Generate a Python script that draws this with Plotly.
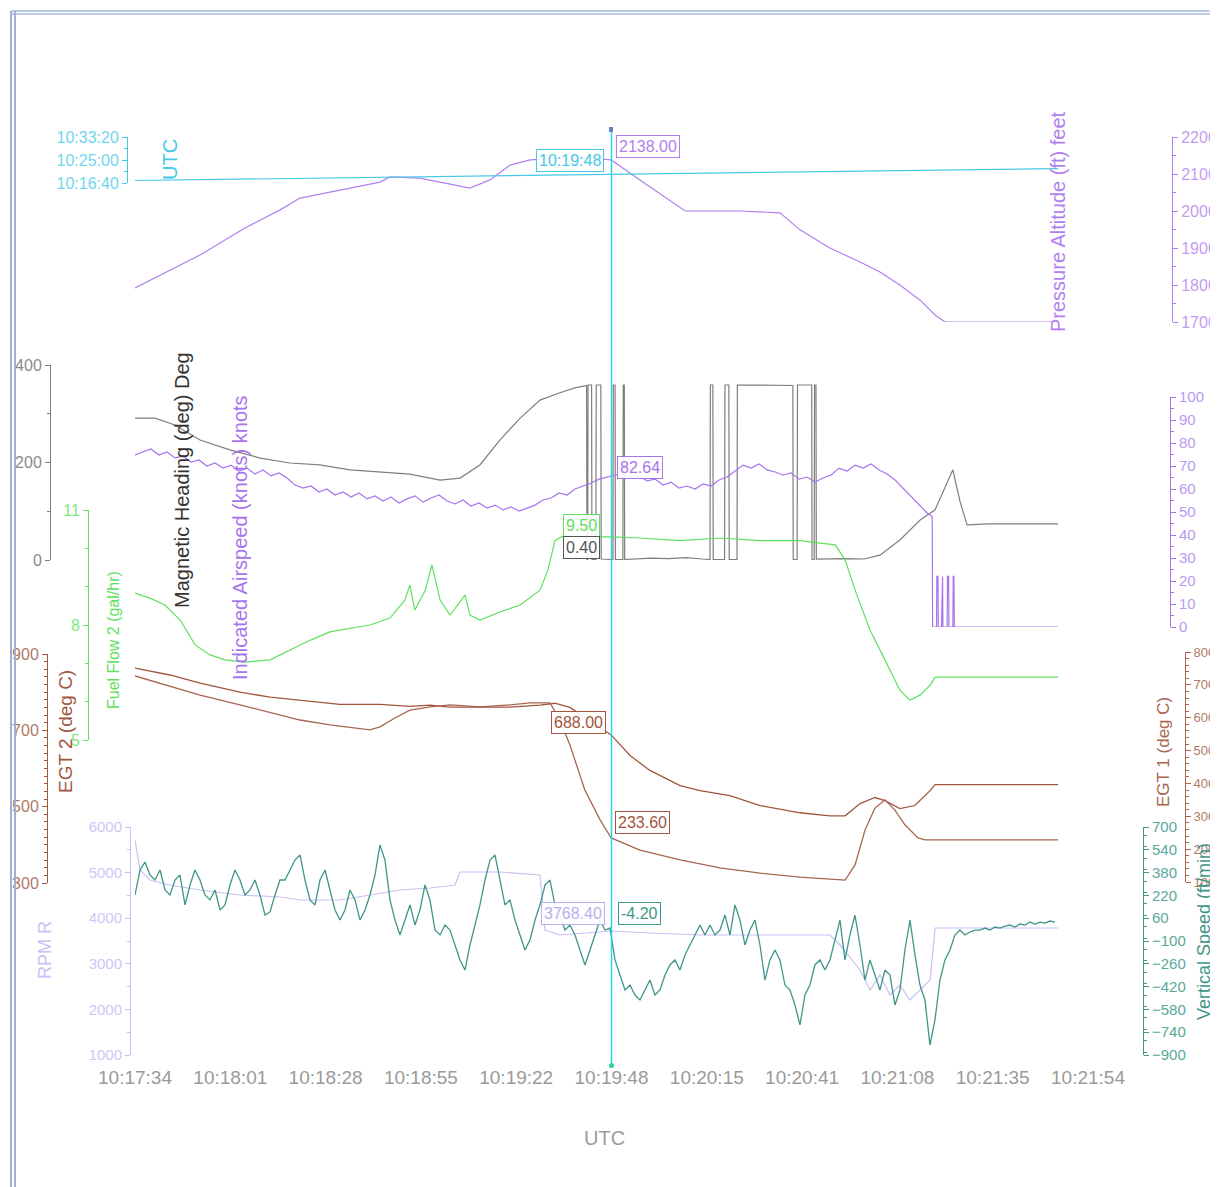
import plotly.graph_objects as go

# ---------------- data ----------------
x_tick_labels = ["10:17:34", "10:18:01", "10:18:28", "10:18:55", "10:19:22", "10:19:48",
                 "10:20:15", "10:20:41", "10:21:08", "10:21:35", "10:21:54"]
x_tick_seconds = [0, 26.8, 53.6, 80.4, 107.2, 134.0, 160.8, 187.6, 214.4, 241.2, 268.0]
cursor_t = 134.0

# UTC trace (clock time, seconds after 10:16:40 on its own axis)
utc_t = [0, 259.6]
utc_clock = ["10:17:34", "10:21:54"]
utc_tick_labels = ["10:16:40", "10:25:00", "10:33:20"]

# Pressure Altitude (ft)
alt_t = [0, 9.8, 18.3, 30.9, 40.8, 46.4, 57.6, 68.9, 71.7, 80.1, 85.8, 94.2, 99.8, 105.5, 111.1,
         119.5, 128.0, 133.9, 142.0, 150.4, 154.7, 170.1, 181.4, 187.0, 195.4, 203.9, 209.5,
         215.1, 220.8, 225.0, 227.8, 259.6]
alt_v = [1792, 1840, 1881, 1954, 2003, 2035, 2057, 2078, 2092, 2089, 2078, 2062, 2084, 2124, 2138,
         2143, 2143, 2138, 2084, 2030, 2000, 2000, 1995, 1949, 1900, 1862, 1835,
         1800, 1759, 1719, 1700, 1700]

# Magnetic Heading (deg)
hdg_t = [0, 5.6, 11.2, 18.3, 26.7, 35.2, 43.6, 52.0, 60.5, 68.9, 77.3, 85.8, 91.4, 97.0, 102.6,
         108.3, 113.9, 119.5, 123.7, 126.5, 127.0, 127.1, 127.3, 127.4, 128.4, 128.5, 129.6, 129.7,
         131.0, 131.1, 134.4, 134.5, 135.0, 135.1, 137.2, 137.3, 137.6, 137.7, 140, 145, 150, 155,
         159.5, 161.7, 161.8, 162.5, 162.6, 165.8, 165.9, 167.0, 167.1, 169.3, 169.4, 185.0, 185.1,
         186.2, 186.3, 190.3, 190.4, 191.0, 191.1, 191.5, 191.6, 195, 200, 205, 209.5, 215.1,
         220.8, 225.0, 227.8, 230.0, 232.0, 234.0, 240, 259.6]
hdg_v = [291, 291, 277, 246, 226, 209, 199, 195, 185, 181, 176, 164, 168, 195, 246,
         291, 328, 343, 353, 357, 358, 1, 1, 359, 359, 1, 1, 359,
         359, 2, 1, 359, 359, 1, 1, 359, 359, 1, 2, 4, 3, 5,
         2, 1, 359, 359, 1, 1, 359, 359, 1, 1, 359, 358, 1,
         1, 359, 359, 1, 1, 359, 359, 2, 3, 3, 2, 10, 41,
         82, 103, 150, 185, 120, 72, 74, 74]

# Indicated Airspeed (knots): one sample every 2.25 s, then the shutdown tail
ias_step = 2.25
ias_v = [74.8, 76.1, 77.4, 74.8, 76.1, 73.5, 74.3, 71.7, 72.6, 70.0, 71.3, 69.1, 70.4, 67.8, 69.1,
         66.5, 68.3, 65.7, 67.0, 64.8, 61.7, 60.4, 61.3, 58.7, 60.0, 57.4, 58.7, 56.5, 58.3, 55.7,
         57.0, 54.8, 56.5, 53.9, 55.7, 57.0, 54.3, 56.1, 57.4, 54.8, 53.5, 55.2, 52.6, 53.9, 51.7,
         53.0, 50.9, 52.2, 50.4, 51.7, 53.0, 55.2, 56.1, 58.3, 57.4, 60.0, 61.3, 62.6, 64.3, 65.2,
         66.1, 66.5, 64.8, 65.7, 63.5, 64.3, 61.7, 63.0, 60.4, 61.3, 60.0, 62.2, 61.3, 63.9, 65.2,
         67.8, 70.4, 69.1, 70.9, 68.3, 67.4, 66.1, 67.0, 64.3, 65.2, 63.0, 64.8, 66.1, 69.1, 67.8,
         70.4, 69.1, 70.9, 68.3, 66.5, 63.9, 60.4, 56.5, 53.0, 49.6]
ias_tail_t = [224.2, 224.3, 225.4, 225.5, 225.8, 225.9, 226.8, 226.9, 227.1, 227.2, 228.4, 228.5,
              228.8, 228.9, 230.0, 230.1, 230.3, 230.4, 259.6]
ias_tail_v = [48, 0, 0, 22, 22, 0, 0, 22, 22, 0, 0, 22, 22, 0, 0, 22, 22, 0, 0]

# Fuel Flow 2 (gal/hr)
ff_t = [0, 4.2, 8.4, 12.7, 16.9, 21.1, 25.3, 30.9, 38.0, 43.6, 49.2, 54.8, 60.5, 66.1, 71.7,
        75.9, 77.3, 78.7, 81.6, 83.5, 85.8, 88.6, 92.8, 94.2, 97.0, 102.6, 108.3, 113.9, 116.1,
        118.1, 120.9, 125.1, 133.9, 142.0, 153.3, 164.5, 175.8, 187.0, 196.9, 199.7, 202.5, 206.7,
        210.9, 215.1, 217.9, 220.8, 223.6, 225.0, 259.6]
ff_v = [8.83, 8.7, 8.52, 8.13, 7.48, 7.22, 7.09, 7.03, 7.09, 7.35, 7.6, 7.82, 7.92, 8.0, 8.18,
        8.65, 9.04, 8.39, 8.9, 9.57, 8.65, 8.26, 8.78, 8.26, 8.13, 8.34, 8.52, 8.91, 9.43,
        10.2, 10.35, 10.3, 10.3, 10.27, 10.2, 10.27, 10.2, 10.2, 10.09, 9.7, 8.91, 7.87,
        7.09, 6.3, 6.04, 6.17, 6.43, 6.64, 6.64]

# EGT 2 (deg C)
egt2_t = [0, 9.8, 18.3, 29.5, 38.0, 46.4, 57.6, 68.9, 77.3, 83.0, 88.6, 97.0, 105.5, 113.9, 118.1,
          122.3, 127.0, 133.9, 139.2, 144.8, 153.3, 158.9, 167.3, 175.8, 187.0, 195.4, 199.7,
          203.9, 208.1, 210.9, 215.1, 219.3, 223.6, 225.0, 259.6]
egt2_v = [863, 845, 824, 800, 787, 779, 768, 768, 763, 766, 761, 761, 761, 766, 771,
          760, 730, 688, 634, 595, 555, 542, 529, 503, 484, 476, 476,
          508, 524, 516, 495, 503, 542, 558, 558]

# EGT 1 (deg C)
egt1_t = [0, 9.8, 18.3, 29.5, 38.0, 46.4, 54.8, 66.1, 68.9, 73.1, 77.3, 83.0, 88.6, 97.0, 105.5,
          111.1, 116.7, 119.5, 122.3, 126.5, 130.8, 133.9, 142.0, 153.3, 164.5, 175.8, 187.0,
          199.7, 202.5, 205.3, 208.1, 210.9, 213.7, 216.5, 220.2, 222.2, 259.6]
egt1_v = [727, 697, 669, 639, 617, 593, 578, 563, 572, 599, 623, 633, 639, 633, 639,
          645, 645, 593, 517, 380, 289, 234, 197, 167, 143, 127, 115,
          106, 152, 258, 325, 350, 319, 274, 234, 228, 228]

# RPM R
rpm_t = [0, 1.4, 4.2, 9.8, 18.3, 29.5, 40.8, 46.4, 57.6, 68.9, 74.5, 83.0, 90.0, 91.4, 102.6,
         113.9, 115.3, 119.5, 130.8, 133.9, 144.8, 158.9, 172.9, 187.0, 195.4, 198.3, 203.9,
         206.7, 209.5, 212.3, 215.1, 217.9, 220.8, 223.6, 225.0, 259.6]
rpm_v = [5715, 5057, 4838, 4728, 4618, 4509, 4465, 4399, 4399, 4553, 4618, 4662, 4728, 5013, 5013,
         4947, 3741, 3632, 3697, 3719, 3675, 3632, 3632, 3632, 3632, 3412, 2864,
         2425, 2754, 2316, 2535, 2206, 2425, 2645, 3785, 3785]

# Vertical Speed (ft/min), one sample every 1.406 s
vs_step = 1.406
vs_v = [223, 398, 454, 363, 328, 398, 258, 223, 328, 363, 153, 293, 398, 328, 223, 188, 258, 118,
        153, 293, 398, 328, 223, 258, 328, 223, 82, 104, 223, 328, 328, 398, 468, 504, 328, 188,
        153, 328, 398, 258, 118, 47, 118, 258, 188, 47, 118, 223, 363, 574, 468, 188, 47, -58,
        47, 153, 12, 118, 293, 188, -23, -58, 12, -23, -128, -233, -304, -128, 12, 153, 328, 468,
        504, 328, 153, 188, 47, -58, -163, -93, 47, 153, 293, 328, 153, 82, -23, 12, -58, -163,
        -268, -163, -58, 47, -23, -9, -233, -339, -444, -409, -479, -514, -444, -374, -479, -444,
        -339, -268, -233, -304, -198, -128, -58, 12, -58, 12, -58, -23, 82, -58, 153, 47, -128,
        -23, 47, -128, -374, -233, -163, -233, -409, -444, -549, -689, -479, -409, -268, -233,
        -304, -233, -93, 47, -233, -58, 82, -128, -374, -233, -339, -444, -304, -339, -549, -444,
        -163, 47, -198, -409, -514, -830, -654, -374, -233, -163, -58, -23,
        -58, -37, -23, -23, -9, -23, -2, -9, 5, 12, -2, 19, 12, 33, 19, 33, 26, 40, 33]

# cursor read-outs
cursor_labels = ["10:19:48", "2138.00", "82.64", "9.50", "0.40", "688.00", "233.60", "3768.40", "-4.20"]

# ---------------- layout helpers ----------------
W, H = 1218, 1187
OX, OY = 8, 8   # page body margin


def px(x):
    return (x - OX) / W


def py(y):
    return 1 - (y - OY) / H


def hms(s):
    h, m, sec = s.split(":")
    return int(h) * 3600 + int(m) * 60 + float(sec)


C_UTC = "#46c8e6"
C_ALT = "#b27ff0"
C_HDG = "#7f7f7f"
C_IAS = "#a774ee"
C_FF = "#5fe05f"
C_EGT2 = "#a0563e"
C_EGT1 = "#a86650"
C_RPM = "#c9c0f5"
C_VS = "#3f9688"
FONT = "Liberation Sans, Arial, sans-serif"

fig = go.Figure()

utc_base = hms("10:16:40")
utc_vals = [hms(c) - utc_base for c in utc_clock]
vs_t = [round(i * vs_step, 2) for i in range(len(vs_v))]
ias_t_all = [round(i * ias_step, 2) for i in range(len(ias_v))] + ias_tail_t
ias_v_all = ias_v + ias_tail_v

series = [
    ("Pressure Altitude", alt_t, alt_v, "y", C_ALT, 1.2),
    ("UTC", utc_t, utc_vals, "y2", C_UTC, 1.2),
    ("Magnetic Heading", hdg_t, hdg_v, "y3", C_HDG, 1.2),
    ("Indicated Airspeed", ias_t_all, ias_v_all, "y4", C_IAS, 1.2),
    ("Fuel Flow 2", ff_t, ff_v, "y5", C_FF, 1.2),
    ("EGT 2", egt2_t, egt2_v, "y6", C_EGT2, 1.3),
    ("EGT 1", egt1_t, egt1_v, "y7", C_EGT1, 1.3),
    ("RPM R", rpm_t, rpm_v, "y8", C_RPM, 1.2),
    ("Vertical Speed", vs_t, vs_v, "y9", C_VS, 1.3),
]
for name, xs, ys, ya, col, w in series:
    fig.add_trace(go.Scatter(x=xs, y=ys, yaxis=ya, xaxis="x", mode="lines", name=name,
                             line=dict(color=col, width=w), hoverinfo="skip"))


def yax(dom_px, rng, pos_px, side, col, dtick=None, minor=None, tickvals=None, ticktext=None,
        tick0=None, lcol=None, tcol=None, fsize=16):
    d = dict(domain=[py(dom_px[0]), py(dom_px[1])], range=rng, anchor="free", position=px(pos_px),
             side=side, showgrid=False, zeroline=False, showline=True, linecolor=lcol or col,
             linewidth=1, ticks="outside", ticklen=5, tickcolor=lcol or col, automargin=False,
             tickfont=dict(color=tcol or col, size=fsize, family=FONT), fixedrange=True)
    if dtick is not None:
        d["dtick"] = dtick
    if tick0 is not None:
        d["tick0"] = tick0
    if tickvals is not None:
        d["tickmode"] = "array"
        d["tickvals"] = tickvals
        d["ticktext"] = ticktext
    if minor is not None:
        d["minor"] = dict(ticks="outside", ticklen=3, dtick=minor, tickcolor=lcol or col, showgrid=False)
    return d


layout = dict(
    width=W, height=H, margin=dict(l=0, r=0, t=0, b=0, pad=0), autosize=False,
    paper_bgcolor="white", plot_bgcolor="rgba(0,0,0,0)", showlegend=False,
    font=dict(family=FONT),
    xaxis=dict(domain=[px(135), px(1088)], range=[0, 268], anchor="free", position=py(1064),
               tickmode="array", tickvals=x_tick_seconds, ticktext=x_tick_labels, automargin=False,
               showgrid=False, zeroline=False, showline=False, ticks="",
               tickfont=dict(color="#9a9a9a", size=19, family=FONT), fixedrange=True),
    yaxis=yax((322, 137), [1700, 2200], 1172, "right", C_ALT, dtick=100, minor=50, tcol="#c39cf2"),
    yaxis2=yax((183, 137), [0, 1000], 127, "left", C_UTC, tickvals=[0, 500, 1000],
               ticktext=utc_tick_labels, minor=250, tcol="#6fd6ee"),
    yaxis3=yax((560, 365), [0, 400], 50, "left", C_HDG, dtick=200, minor=100, tcol="#8a8a8a"),
    yaxis4=yax((627, 397), [0, 100], 1170, "right", C_IAS, dtick=10, minor=5, tcol="#b99af0",
               fsize=15),
    yaxis5=yax((740, 510), [5, 11], 88, "left", C_FF, tickvals=[5, 8, 11], ticktext=["5", "8", "11"],
               minor=1, tcol="#7de87d"),
    yaxis6=yax((883, 654), [300, 900], 47, "left", C_EGT2, dtick=200, tick0=100, minor=20,
               tcol="#b07a66"),
    yaxis7=yax((882, 652), [100, 800], 1185, "right", C_EGT1, dtick=100, minor=20, tcol="#b07a66",
               fsize=13),
    yaxis8=yax((1055, 827), [1000, 6000], 130, "left", C_RPM, dtick=1000, minor=500, tcol="#cfc6f6",
               fsize=15),
    yaxis9=yax((1055, 827), [-900, 700], 1143, "right", C_VS, dtick=160, tick0=-900, minor=80,
               tcol="#5aa89c", fsize=15),
)
fig.update_layout(**layout)


def note(txt, x, y, col, size, angle=0, **kw):
    fig.add_annotation(x=px(x), y=py(y), xref="paper", yref="paper", text=txt, showarrow=False,
                       xanchor="center", yanchor="middle", textangle=angle,
                       font=dict(color=col, size=size, family=FONT), **kw)


# axis titles (placed inside the chart as in the reference)
titles = [
    ("UTC", 170, 160, C_UTC, 20),
    ("Pressure Altitude (ft) feet", 1058, 222, C_ALT, 20),
    ("Magnetic Heading (deg) Deg", 182, 480, "#333333", 20),
    ("Indicated Airspeed (knots) knots", 240, 538, C_IAS, 20),
    ("Fuel Flow 2 (gal/hr)", 113, 640, C_FF, 16),
    ("EGT 2 (deg C)", 65, 732, C_EGT2, 19),
    ("EGT 1 (deg C)", 1163, 752, C_EGT1, 17),
    ("RPM R", 45, 950, C_RPM, 18),
    ("Vertical Speed (ft/min)", 1204, 932, C_VS, 18),
]
for txt, x, y, col, sz in titles:
    note(txt, x, y, col, sz, angle=-90)

note("UTC", 604, 1138, "#9a9a9a", 20)

# cursor read-out boxes
box_pos = [(570, 160, C_UTC), (648, 146, C_ALT), (640, 467, C_IAS), (581, 526, C_FF),
           (581, 547, "#555555"), (578, 722, C_EGT2), (642, 822, C_EGT2), (573, 913, "#b9aef0"),
           (639, 913, C_VS)]
for txt, (x, y, col) in zip(cursor_labels, box_pos):
    note(txt, x, y, col, 16, bgcolor="rgba(255,255,255,0.9)", bordercolor=col, borderwidth=1,
         borderpad=2)

# cursor line with its small end markers
fig.add_shape(type="line", xref="x", yref="paper", x0=cursor_t, x1=cursor_t, y0=py(1065), y1=py(128),
              line=dict(color="#2fd2e6", width=1.5), layer="above")
fig.add_shape(type="rect", xref="paper", yref="paper", x0=px(609), x1=px(613), y0=py(132), y1=py(127),
              line=dict(width=0), fillcolor="#6a7fc0", layer="above")
fig.add_shape(type="circle", xref="paper", yref="paper", x0=px(609), x1=px(614), y0=py(1068), y1=py(1063),
              line=dict(width=0), fillcolor="#2fd2a6", layer="above")

# frame border
for x0 in (11, 15):
    fig.add_shape(type="line", xref="paper", yref="paper", x0=px(x0), x1=px(x0), y0=0, y1=py(11),
                  line=dict(color="#9fb0d6", width=2))
for y0 in (11, 14):
    fig.add_shape(type="line", xref="paper", yref="paper", x0=px(11), x1=1, y0=py(y0), y1=py(y0),
                  line=dict(color="#a9b7d8", width=1.5))

fig.write_html("out.html")
